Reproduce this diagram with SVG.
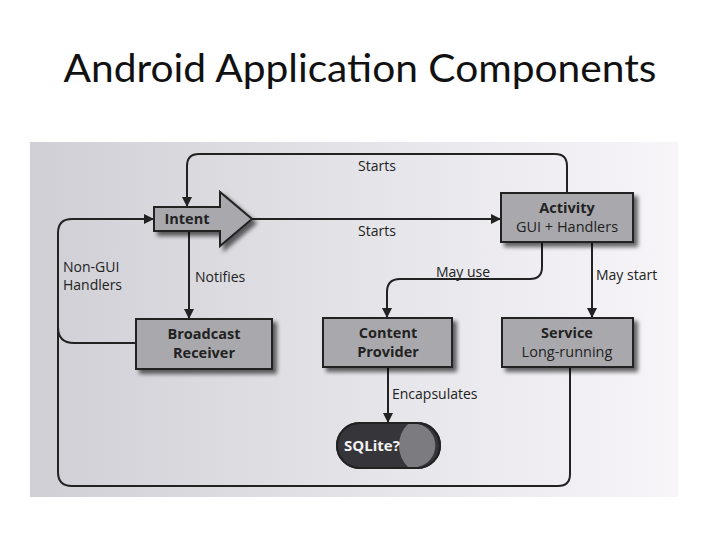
<svg xmlns="http://www.w3.org/2000/svg" width="720" height="540" viewBox="0 0 720 540">
<defs>
<linearGradient id="photo" x1="0" y1="0" x2="1" y2="0">
<stop offset="0" stop-color="#cfcfd5"/>
<stop offset="0.5" stop-color="#e4e3e8"/>
<stop offset="1" stop-color="#f7f5f8"/>
</linearGradient>
<filter id="sh" x="-20%" y="-20%" width="150%" height="160%">
<feGaussianBlur in="SourceAlpha" stdDeviation="2"/>
<feOffset dx="4" dy="4" result="b"/>
<feComponentTransfer><feFuncA type="linear" slope="0.6"/></feComponentTransfer>
<feMerge><feMergeNode/><feMergeNode in="SourceGraphic"/></feMerge>
</filter>
<marker id="ah" markerWidth="10" markerHeight="10" viewBox="0 0 10 10" refX="9" refY="5" orient="auto" markerUnits="userSpaceOnUse">
<path d="M0,0 L10,5 L0,10 z" fill="#222"/>
</marker>
</defs>
<style>
.title{font-family:Lato,"Open Sans","Liberation Sans",sans-serif;font-size:39px;fill:#111}
.box{fill:#a9a9ad;stroke:#222;stroke-width:2}
.b{font-family:"Open Sans","Noto Sans","Liberation Sans",sans-serif;font-size:14.5px;font-weight:bold;fill:#222;text-anchor:middle}
.n{font-family:"Open Sans","Noto Sans","Liberation Sans",sans-serif;font-size:14.5px;fill:#222;text-anchor:middle}
.lbl{font-family:"Open Sans","Noto Sans","Liberation Sans",sans-serif;font-size:14px;fill:#222}
.c{fill:none;stroke:#222;stroke-width:2}
</style>
<rect width="720" height="540" fill="#ffffff"/>
<text class="title" x="360" y="82" text-anchor="middle" textLength="593" lengthAdjust="spacingAndGlyphs">Android Application Components</text>
<rect x="30" y="142" width="648" height="355" fill="url(#photo)"/>

<g id="connectors">
<path class="c" d="M567,193 V166 Q567,154 555,154 H199 Q187,154 187,166 V206" marker-end="url(#ah)"/>
<path class="c" d="M252,219 H500" marker-end="url(#ah)"/>
<path class="c" d="M189,231 V318" marker-end="url(#ah)"/>
<path class="c" d="M570,367 V474 Q570,486 558,486 H72 Q58,486 58,472 V233 Q58,219 72,219 H153" marker-end="url(#ah)"/>
<path class="c" d="M136,343 H74 Q58,343 58,327"/>
<path class="c" d="M542,242 V267 Q542,279 530,279 H400 Q387,279 387,292 V317" marker-end="url(#ah)"/>
<path class="c" d="M592,242 V317" marker-end="url(#ah)"/>
<path class="c" d="M388,367 V422" marker-end="url(#ah)"/>
</g>

<g id="labels">
<text class="lbl" x="358" y="171">Starts</text>
<text class="lbl" x="358" y="236">Starts</text>
<text class="lbl" x="195" y="282">Notifies</text>
<text class="lbl" x="63" y="272">Non-GUI</text>
<text class="lbl" x="63" y="290">Handlers</text>
<text class="lbl" x="436" y="277">May use</text>
<text class="lbl" x="596" y="280">May start</text>
<text class="lbl" x="392" y="399">Encapsulates</text>
</g>

<g id="intent">
<polygon points="154,207 220,207 220,192 252,219 220,246 220,231 154,231" class="box" filter="url(#sh)"/>
<text class="b" x="187" y="224">Intent</text>
</g>

<g id="activity">
<rect x="501" y="193" width="132" height="49" class="box" filter="url(#sh)"/>
<text class="b" x="567" y="213">Activity</text>
<text class="n" x="567" y="232">GUI + Handlers</text>
</g>

<g id="broadcast-receiver">
<rect x="136" y="319" width="136" height="50" class="box" filter="url(#sh)"/>
<text class="b" x="204" y="339">Broadcast</text>
<text class="b" x="204" y="358">Receiver</text>
</g>

<g id="content-provider">
<rect x="323" y="318" width="129" height="49" class="box" filter="url(#sh)"/>
<text class="b" x="388" y="338">Content</text>
<text class="b" x="388" y="357">Provider</text>
</g>

<g id="service">
<rect x="502" y="318" width="131" height="49" class="box" filter="url(#sh)"/>
<text class="b" x="567" y="338">Service</text>
<text class="n" x="567" y="357">Long-running</text>
</g>

<g id="sqlite">
<rect x="337" y="423" width="103" height="45" rx="22.5" fill="#36363a" stroke="#222" stroke-width="2"/>
<path d="M418,424 A22,22 0 0 1 418,467 H408 A30,30 0 0 1 408,424 Z" fill="#7c7c80"/>
<rect x="337" y="423" width="103" height="45" rx="22.5" fill="none" stroke="#222" stroke-width="2"/>
<text x="372" y="451" font-family="'Open Sans','Noto Sans','Liberation Sans',sans-serif" font-size="15" font-weight="bold" fill="#f2f2f2" text-anchor="middle">SQLite?</text>
</g>
</svg>
